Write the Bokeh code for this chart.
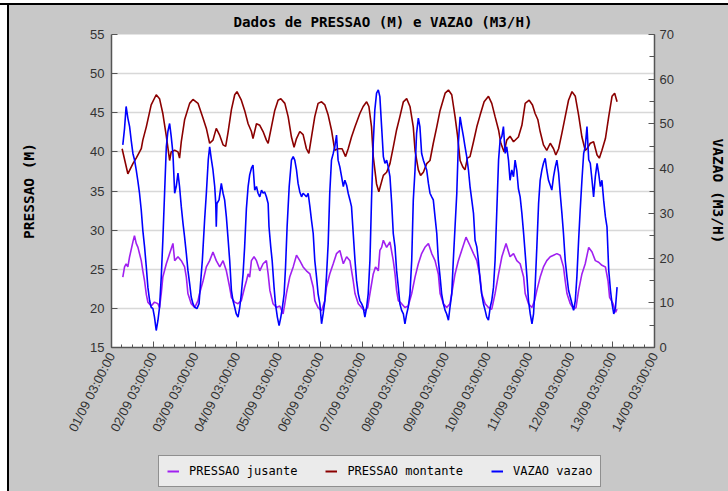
import numpy as np
import pandas as pd
from bokeh.plotting import figure
from bokeh.layouts import column, row
from bokeh.models import (Range1d, LinearAxis, FixedTicker, SingleIntervalTicker,
                          DatetimeTickFormatter, Legend, LegendItem, Spacer)
from bokeh.embed import file_html
from bokeh.resources import INLINE

# ---------------- data (hours after 01/09 03:00:00, value) ----------------
jusante = [(6.5,24.0),(7.5,25.3),(8.4,25.7),(9.4,25.3),(10.4,26.6),(12.3,28.5),(13.2,29.3),(14.2,28.3),(15.2,27.8),(17.1,26.1),(18.0,24.8),(19.0,23.5),(20.0,21.8),(20.9,20.8),(22.8,20.3),(24.7,20.8),(26.7,20.6),(27.6,20.1),(28.6,21.9),(29.5,24.0),(31.5,25.7),(33.4,27.0),(35.3,28.3),(36.3,26.1),(38.2,26.6),(40.1,26.1),(42.0,25.3),(43.0,24.0),(43.9,21.9),(45.8,20.6),(47.8,20.1),(49.7,21.0),(50.6,21.9),(52.6,23.5),(54.5,25.3),(56.4,26.1),(58.3,27.2),(60.2,26.1),(62.2,25.3),(64.1,26.1),(66.0,24.8),(67.9,22.7),(68.9,21.4),(70.8,20.8),(72.7,20.6),(74.6,21.0),(76.5,22.7),(77.5,23.5),(78.5,24.4),(79.4,24.0),(80.4,26.1),(81.9,26.6),(83.3,26.1),(85.2,24.8),(87.1,25.7),(89.0,26.1),(90.0,24.4),(91.0,22.3),(92.8,20.6),(94.8,20.1),(96.7,20.3),(98.6,19.3),(99.6,20.6),(100.5,21.9),(102.4,24.0),(104.4,25.3),(106.3,26.8),(108.2,26.1),(110.1,25.3),(112.0,24.8),(114.0,24.4),(115.9,22.7),(116.8,21.0),(118.7,20.1),(120.7,19.7),(122.6,21.0),(123.5,22.7),(125.4,24.4),(127.4,25.7),(129.3,27.0),(131.2,27.4),(133.2,25.7),(135.1,26.6),(137.0,26.1),(138.9,23.5),(139.9,21.9),(141.8,20.6),(143.7,20.1),(145.6,19.7),(147.2,20.1),(148.5,21.9),(150.4,24.4),(151.7,25.3),(153.3,24.8),(154.2,27.4),(155.2,27.8),(156.2,28.7),(158.1,27.8),(160.0,28.5),(161.9,26.1),(162.9,24.4),(163.8,22.3),(164.8,21.0),(166.7,20.6),(168.6,20.1),(170.5,20.3),(172.5,21.9),(174.4,24.0),(176.3,25.7),(178.2,27.0),(180.1,27.8),(182.1,28.3),(184.0,27.0),(185.9,26.1),(187.8,24.4),(188.8,21.9),(190.7,20.6),(192.6,20.1),(194.5,20.6),(195.5,21.9),(197.4,24.4),(199.3,26.1),(201.2,27.4),(203.7,29.1),(206.0,28.0),(208.0,27.0),(209.9,26.1),(211.8,24.0),(212.7,21.9),(214.7,20.6),(216.6,20.1),(218.5,19.9),(220.4,21.9),(222.4,24.4),(224.3,26.6),(226.7,28.3),(229.0,26.6),(231.0,27.0),(232.9,26.1),(234.8,25.7),(236.8,24.0),(237.7,21.9),(239.6,20.6),(241.6,20.1),(243.1,21.0),(244.4,22.3),(246.3,24.0),(248.2,25.3),(250.1,26.1),(252.1,26.6),(254.0,26.8),(255.9,27.0),(257.8,26.8),(259.7,25.3),(260.7,23.5),(261.7,21.9),(263.6,20.6),(265.5,19.9),(266.9,20.1),(268.4,22.3),(270.3,24.4),(272.2,25.7),(274.2,27.8),(276.1,27.2),(278.0,26.1),(279.9,25.9),(281.8,25.5),(283.8,25.3),(285.3,23.5),(286.2,21.4),(288.2,20.6),(289.6,19.5),(290.5,19.9)]

montante = [(6.1,40.4),(9.4,37.2),(12.3,38.5),(14.2,39.2),(17.1,40.4),(18.0,41.5),(20.0,43.2),(22.8,46.0),(25.7,47.3),(27.6,46.8),(29.5,44.9),(31.5,42.0),(33.4,38.9),(34.3,40.0),(36.3,40.2),(38.2,40.0),(39.1,39.2),(40.1,41.3),(42.0,44.1),(44.9,46.2),(46.8,46.7),(49.7,46.2),(52.6,44.3),(54.5,43.0),(56.4,41.1),(58.3,41.5),(60.2,43.0),(62.2,42.1),(64.1,40.9),(65.6,40.7),(66.9,42.4),(68.9,45.4),(70.8,47.3),(72.1,47.7),(74.6,46.6),(76.5,45.3),(78.5,43.6),(80.4,42.6),(81.3,41.7),(83.3,43.6),(85.2,43.4),(87.1,42.6),(89.0,41.5),(90.0,41.1),(91.9,43.2),(93.8,45.3),(95.7,46.6),(97.3,46.8),(99.6,46.2),(101.5,44.5),(103.4,41.9),(104.9,40.6),(106.3,41.7),(108.2,42.6),(110.1,42.2),(112.0,40.4),(113.4,39.8),(114.9,41.9),(116.8,44.5),(118.7,46.2),(120.7,46.4),(122.6,46.0),(124.5,44.7),(126.4,42.8),(128.3,40.2),(130.2,40.4),(132.5,40.4),(134.5,39.4),(136.0,40.4),(137.9,41.9),(139.9,43.2),(142.7,44.9),(144.6,45.8),(146.6,46.4),(147.9,45.8),(149.4,43.2),(150.4,39.4),(152.3,35.9),(153.6,34.9),(156.2,37.0),(158.1,37.4),(160.0,38.5),(161.9,40.6),(163.8,42.8),(165.7,44.5),(167.7,46.4),(169.6,46.8),(171.5,45.8),(173.4,43.2),(174.4,40.2),(176.3,37.7),(177.6,37.0),(179.2,37.4),(181.1,38.5),(183.0,38.9),(184.9,41.1),(186.9,43.2),(188.8,45.3),(191.7,47.5),(193.6,47.9),(195.5,47.3),(197.4,44.5),(198.8,42.1),(200.3,38.9),(201.8,38.1),(203.1,37.7),(204.5,39.2),(206.0,39.4),(208.0,41.3),(209.9,43.2),(211.8,44.7),(214.1,46.4),(216.6,47.1),(218.5,46.2),(220.4,44.5),(222.4,42.8),(223.7,41.1),(225.6,40.0),(227.1,41.5),(229.0,42.0),(231.0,41.3),(233.8,41.9),(235.8,43.4),(237.7,46.2),(240.0,46.6),(241.9,46.0),(243.4,44.9),(245.0,44.1),(246.3,42.6),(248.2,40.9),(250.1,40.2),(252.1,41.1),(254.0,40.4),(255.3,39.6),(256.9,40.4),(258.8,42.4),(260.7,44.5),(262.6,46.6),(264.6,47.7),(266.5,47.1),(268.4,44.7),(270.3,41.9),(272.2,40.2),(273.2,40.4),(275.1,41.1),(277.0,41.3),(279.0,39.6),(280.3,39.2),(281.8,40.2),(283.8,41.7),(285.7,44.5),(287.6,47.1),(289.1,47.5),(290.5,46.4)]

vazao = [(6.5,45.3),(7.5,49.0),(8.4,53.9),(9.4,51.3),(10.4,49.4),(11.3,46.4),(12.3,43.4),(13.2,42.0),(14.2,39.7),(15.2,37.1),(16.1,34.5),(17.1,30.7),(18.0,26.2),(19.0,22.5),(20.0,18.0),(20.9,13.5),(21.9,10.5),(22.8,9.0),(23.8,8.7),(24.7,6.8),(25.7,3.8),(26.7,6.1),(27.6,9.0),(28.6,15.8),(29.5,24.0),(30.5,34.5),(31.5,44.9),(32.4,48.3),(33.4,50.1),(34.3,47.2),(35.3,43.4),(36.3,34.5),(37.2,36.0),(38.2,39.0),(39.1,36.0),(40.1,31.5),(41.1,27.7),(42.0,24.7),(43.0,21.0),(43.9,17.3),(44.9,14.3),(45.8,11.3),(46.8,9.8),(47.8,9.0),(49.1,8.7),(50.3,9.8),(51.0,13.5),(52.2,19.5),(53.5,28.5),(54.5,34.5),(55.6,42.0),(56.4,44.9),(57.4,42.0),(58.3,39.7),(59.3,36.0),(59.9,32.2),(60.2,27.0),(60.6,32.2),(61.8,33.0),(63.1,36.7),(64.1,34.5),(65.0,33.0),(66.0,29.2),(66.9,24.7),(67.9,19.5),(68.9,12.8),(69.8,10.5),(70.8,9.0),(71.7,7.5),(72.7,6.8),(73.7,9.0),(74.6,12.0),(75.6,16.5),(76.5,22.5),(77.5,31.0),(78.5,36.0),(79.4,38.6),(80.4,40.1),(81.3,40.8),(82.3,35.2),(83.3,36.0),(84.2,34.5),(85.2,33.7),(86.2,35.2),(87.1,34.5),(88.0,34.8),(89.0,33.7),(90.0,32.2),(90.5,27.0),(91.5,22.5),(92.3,19.5),(93.4,13.5),(94.2,9.8),(95.3,6.8),(96.3,4.9),(97.3,6.8),(98.2,9.0),(99.2,12.0),(100.0,18.0),(100.9,27.0),(102.1,36.0),(103.4,41.9),(104.4,42.7),(105.3,41.9),(106.3,39.7),(107.2,36.7),(108.2,34.8),(109.2,33.7),(110.1,34.5),(111.1,34.1),(112.0,33.7),(113.0,34.5),(114.0,31.5),(114.9,28.5),(115.9,25.5),(116.8,19.5),(117.8,15.8),(118.7,12.0),(119.7,9.8),(120.7,5.3),(121.6,7.5),(122.6,10.5),(123.5,15.8),(124.5,23.2),(125.4,34.5),(126.4,41.9),(127.4,43.4),(128.3,44.9),(129.3,47.5),(130.2,41.9),(131.2,40.4),(132.2,38.2),(133.2,36.0),(134.1,37.4),(135.1,36.3),(136.0,34.5),(137.0,33.0),(137.9,31.5),(138.9,25.5),(139.9,19.5),(140.8,15.0),(141.8,12.0),(142.7,10.5),(143.7,9.8),(144.6,9.0),(145.6,6.8),(146.6,9.0),(147.5,12.0),(148.5,19.5),(149.4,32.9),(150.4,45.7),(151.3,53.1),(152.3,56.9),(153.3,57.6),(154.2,56.1),(155.2,49.4),(156.2,42.7),(157.1,41.2),(158.1,41.9),(159.0,40.4),(160.0,38.2),(161.0,32.2),(161.9,25.5),(162.9,22.5),(163.8,17.3),(164.8,13.5),(165.7,9.8),(166.7,8.3),(167.7,7.5),(168.6,5.3),(169.6,7.5),(170.5,9.0),(171.5,12.0),(172.5,19.5),(173.4,32.9),(174.4,39.7),(175.3,47.9),(176.3,51.3),(177.2,49.4),(178.2,43.4),(179.2,41.9),(181.1,39.7),(182.1,36.7),(183.0,34.5),(184.0,33.7),(184.9,33.0),(185.9,29.2),(186.9,25.5),(187.8,19.5),(188.8,15.8),(189.7,12.0),(190.7,9.8),(191.7,8.3),(192.6,7.5),(193.6,6.1),(194.5,9.0),(195.5,12.0),(196.4,19.5),(197.4,27.0),(198.4,34.5),(199.3,45.7),(200.3,51.6),(201.2,49.4),(202.2,47.2),(203.1,45.0),(204.1,42.7),(205.1,39.7),(206.0,36.0),(207.0,33.0),(208.0,30.0),(208.9,24.0),(209.9,22.5),(210.8,19.5),(211.8,15.0),(212.7,12.0),(213.7,9.8),(214.7,8.3),(215.6,6.8),(216.6,6.1),(217.6,9.0),(218.5,10.5),(219.5,13.5),(220.4,19.5),(221.4,30.7),(222.4,41.9),(223.3,46.4),(224.3,47.2),(225.2,49.4),(226.2,43.4),(227.1,44.9),(228.1,41.9),(229.0,37.4),(230.0,39.7),(231.0,38.2),(231.9,41.9),(232.9,39.5),(233.8,35.5),(234.8,33.7),(235.8,30.0),(236.8,25.5),(237.7,21.0),(238.7,15.8),(239.6,10.5),(240.6,7.5),(241.6,5.3),(242.5,7.5),(243.4,13.5),(244.4,22.5),(245.4,32.2),(246.3,37.4),(247.3,39.7),(248.2,41.2),(249.2,42.3),(250.1,39.7),(251.1,37.4),(252.1,36.3),(253.0,35.2),(254.0,38.2),(255.0,40.4),(255.9,41.9),(256.9,39.0),(257.8,34.5),(258.8,30.0),(259.7,25.5),(260.7,19.5),(261.7,15.8),(262.6,12.8),(263.6,11.3),(264.6,9.8),(265.5,8.3),(266.5,10.5),(267.4,15.8),(268.4,24.0),(269.3,30.7),(270.3,37.4),(271.3,43.4),(272.2,44.9),(273.2,49.4),(274.2,42.0),(275.1,41.2),(276.1,37.4),(277.0,33.7),(278.0,38.2),(279.0,41.2),(279.9,39.0),(280.9,36.0),(281.8,37.4),(282.8,32.9),(283.8,29.2),(284.7,27.0),(285.7,17.3),(286.7,12.8),(287.6,9.8),(288.6,7.5),(289.6,9.0),(290.5,13.5)]

series_names = ["PRESSAO jusante", "PRESSAO montante", "VAZAO vazao"]
series_colors = ["#A020F0", "#8B0000", "#0000FF"]
left_ticks = [15, 20, 25, 30, 35, 40, 45, 50, 55]
n_days = 13

START = pd.Timestamp("2009-09-01 03:00:00")
EPOCH = pd.Timestamp("1970-01-01")


def to_ms(ts):
    return (ts - EPOCH).total_seconds() * 1000.0


def split(pairs):
    h = np.array([a for a, _ in pairs])
    v = np.array([b for _, b in pairs])
    t = START + pd.to_timedelta(h, unit="h")
    return t, v


x0 = to_ms(START)
x1 = to_ms(START + pd.Timedelta(days=n_days))
major = [to_ms(START + pd.Timedelta(days=d)) for d in range(n_days + 1)]
minor = [to_ms(START + pd.Timedelta(hours=6 * k)) for k in range(n_days * 4 + 1)]

BG = "#C8C8C8"
AX = "#555555"
TXT = "#333333"

# outer frame of the original screenshot: white margin + black line (left/top)
PAD_L, LINE_L, PAD_T, LINE_T = 7, 2, 3, 2
OFF_X = PAD_L + LINE_L
OFF_Y = PAD_T + LINE_T
W = 728 - OFF_X
LEG_H = 36
H_MAIN = 491 - OFF_Y - LEG_H

p = figure(width=W, height=H_MAIN, x_axis_type="datetime",
           x_range=Range1d(x0, x1), y_range=Range1d(15, 55),
           output_backend="svg", toolbar_location=None,
           min_border_left=111 - OFF_X, min_border_right=74,
           min_border_top=34 - OFF_Y, min_border_bottom=108)
p.border_fill_color = BG
p.background_fill_color = "white"
p.outline_line_color = None

p.title.text = "Dados de PRESSAO (M) e VAZAO (M3/H)"
p.title.align = "center"
p.title.text_font = "DejaVu Sans Mono"
p.title.text_font_style = "bold"
p.title.text_font_size = "14.2px"
p.title.text_color = "black"
p.title.standoff = 10

p.extra_y_ranges = {"vazao": Range1d(0, 70)}

# grid
p.xgrid.visible = False
p.ygrid.grid_line_color = "#D8D8D8"
p.ygrid.grid_line_width = 1.5

# x axis
xa = p.xaxis[0]
xa.ticker = FixedTicker(ticks=major, minor_ticks=minor)
fmt = "%d/%m %H:%M:%S"
xa.formatter = DatetimeTickFormatter(microseconds=fmt, milliseconds=fmt, seconds=fmt,
                                     minsec=fmt, minutes=fmt, hourmin=fmt, hours=fmt,
                                     days=fmt, months=fmt, years=fmt)
xa.major_label_orientation = 1.1
xa.major_label_standoff = 6

# left axis
ya = p.yaxis[0]
ya.ticker = FixedTicker(ticks=left_ticks)
ya.axis_label = "PRESSAO (M)"
ya.axis_label_standoff = 50
ya.major_label_standoff = 7

# right axis
ra = LinearAxis(y_range_name="vazao",
                ticker=SingleIntervalTicker(interval=10, num_minor_ticks=2))
ra.major_label_standoff = 5
ra.axis_label = "VAZAO (M3/H)"
ra.axis_label_standoff = 33
p.add_layout(ra, "right")

for ax in (xa, ya, ra):
    ax.axis_line_color = AX
    ax.axis_line_width = 1.5
    ax.major_tick_line_color = AX
    ax.minor_tick_line_color = AX
    ax.major_tick_in = 6
    ax.major_tick_out = 0
    ax.minor_tick_in = 3
    ax.minor_tick_out = 0
    ax.major_label_text_font = "Liberation Sans"
    ax.major_label_text_font_size = "13px"
    ax.major_label_text_color = TXT
    ax.axis_label_text_font = "DejaVu Sans Mono"
    ax.axis_label_text_font_style = "bold"
    ax.axis_label_text_font_size = "14.5px"
    ax.axis_label_text_color = "black"
ra.minor_tick_in = 5

# lines
tj, vj = split(jusante)
tm, vm = split(montante)
tv, vv = split(vazao)
p.line(tj, vj, line_color=series_colors[0], line_width=1.6)
p.line(tm, vm, line_color=series_colors[1], line_width=1.6)
p.line(tv, vv, line_color=series_colors[2], line_width=1.6, y_range_name="vazao")

# ---------------- legend strip under the chart ----------------
lf = figure(width=W, height=LEG_H, output_backend="svg", toolbar_location=None,
            x_range=Range1d(0, 1), y_range=Range1d(0, 1),
            x_axis_location=None, y_axis_location=None,
            min_border_left=111 - OFF_X, min_border_right=74,
            min_border_top=0, min_border_bottom=0)
lf.grid.visible = False
lf.outline_line_color = None
lf.background_fill_color = BG
lf.border_fill_color = BG
# legend-only renderers (a single NaN point, so nothing is drawn in the strip)
swatches = [lf.line([np.nan], [np.nan], line_color=c, line_width=2) for c in series_colors]

legend = Legend(items=[LegendItem(label=n, renderers=[r]) for n, r in zip(series_names, swatches)],
                orientation="horizontal", location=(47, 4), margin=0,
                padding=8, spacing=28, label_standoff=10,
                glyph_width=12, glyph_height=10, label_height=10,
                label_text_font="DejaVu Sans Mono", label_text_font_size="12px",
                label_text_color="black",
                border_line_color="#333333", border_line_width=1,
                background_fill_color="#EBEBEB", background_fill_alpha=1.0)
lf.add_layout(legend)

top_white = Spacer(width=728, height=PAD_T, styles={"background-color": "white"})
top_black = Spacer(width=728, height=LINE_T, styles={"background-color": "black"})
left_white = Spacer(width=PAD_L, height=491 - OFF_Y, styles={"background-color": "white"})
left_black = Spacer(width=LINE_L, height=491 - OFF_Y, styles={"background-color": "black"})

chart = column(p, lf, spacing=0, styles={"background-color": BG})
layout = column(top_white, top_black,
                row(left_white, left_black, chart, spacing=0),
                spacing=0)
open("out.html", "w").write(file_html(layout, INLINE))
